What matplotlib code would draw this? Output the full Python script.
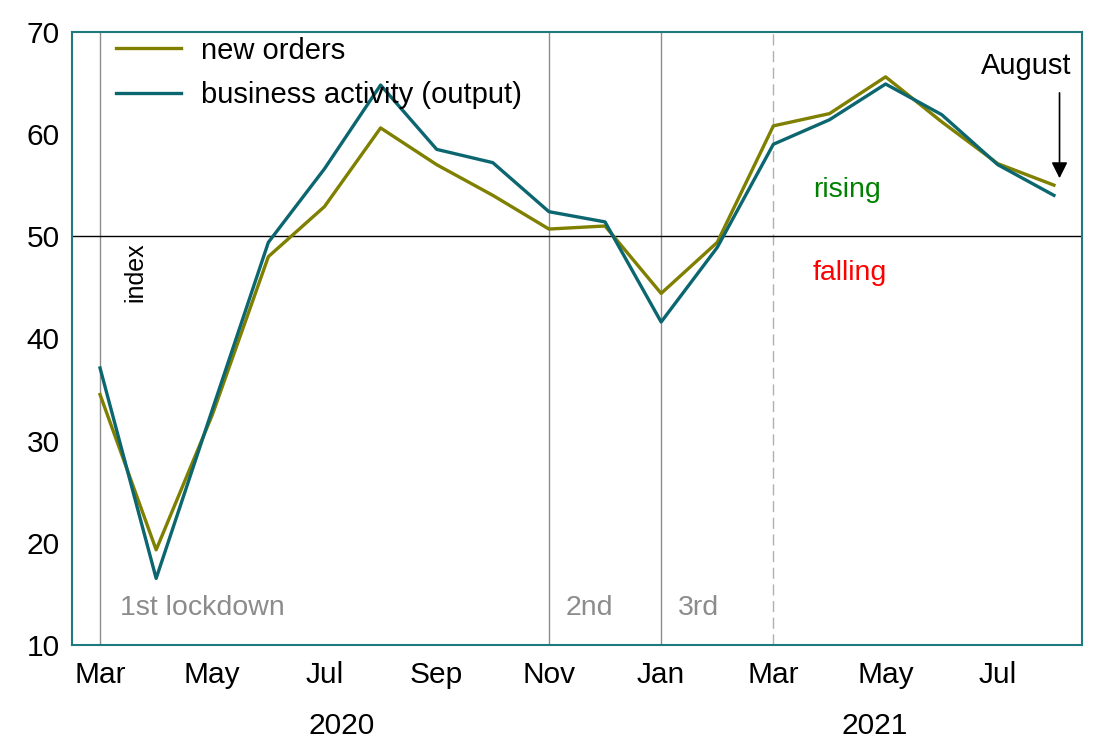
import matplotlib.pyplot as plt
from matplotlib import font_manager

months = ["Mar", "Apr", "May", "Jun", "Jul", "Aug", "Sep", "Oct", "Nov", "Dec",
          "Jan", "Feb", "Mar", "Apr", "May", "Jun", "Jul", "Aug"]
new_orders = [34.5, 19.3, 32.5, 48.0, 52.9, 60.6, 57.0, 54.0, 50.7, 51.0,
              44.4, 49.4, 60.8, 62.0, 65.6, 61.2, 57.1, 55.0]
business_activity = [37.1, 16.5, 33.0, 49.4, 56.6, 64.8, 58.5, 57.2, 52.4, 51.4,
                     41.6, 48.9, 59.0, 61.4, 64.9, 61.9, 57.0, 54.0]
years = ["2020", "2021"]

names = {f.name for f in font_manager.fontManager.ttflist}
if "Liberation Sans Narrow" in names:
    plt.rcParams["font.family"] = ["Liberation Sans Narrow", "DejaVu Sans"]
else:
    plt.rcParams["font.family"] = ["Liberation Sans", "DejaVu Sans"]

OLIVE = "#7f7f00"
TEAL = "#0b6670"
FRAME = "#1f7a80"

fig = plt.figure(figsize=(10.94, 7.42), dpi=100)
ax = fig.add_axes([0.0658, 0.131, 0.9232, 0.826])

x = list(range(len(months)))

# lockdown markers
for i in [0, 8, 10]:
    ax.axvline(i, color="#8c8c8c", lw=1.0, zorder=1)
ax.axvline(12, color="#b0b0b0", lw=1.0, ls=(0, (8, 4)), zorder=1)
ax.axhline(50, color="black", lw=1.0, zorder=1)

ax.plot(x, new_orders, color=OLIVE, lw=2.4, label="new orders", zorder=3)
ax.plot(x, business_activity, color=TEAL, lw=2.4, label="business activity (output)", zorder=3)

ax.set_xlim(-0.5, 17.5)
ax.set_ylim(10, 70)
ax.set_yticks(range(10, 71, 10))
ax.set_xticks(x[::2])
ax.set_xticklabels(months[::2])
ax.tick_params(length=0, labelsize=21.5)
ax.tick_params(axis="x", pad=12)
ax.tick_params(axis="y", pad=9)
for s in ax.spines.values():
    s.set_color(FRAME)
    s.set_linewidth(1.5)

ax.text(4.3, -0.132, years[0], transform=ax.get_xaxis_transform(), ha="center", va="center", fontsize=21.5)
ax.text(13.8, -0.132, years[1], transform=ax.get_xaxis_transform(), ha="center", va="center", fontsize=21.5)

ax.text(0.63, 46.5, "index", rotation=90, ha="center", va="center", fontsize=18)
ax.text(0.35, 13.6, "1st lockdown", color="#8c8c8c", fontsize=20.5, va="center")
ax.text(8.3, 13.6, "2nd", color="#8c8c8c", fontsize=20.5, va="center")
ax.text(10.3, 13.6, "3rd", color="#8c8c8c", fontsize=20.5, va="center")
ax.text(12.7, 54.5, "rising", color="green", fontsize=20.5, va="center")
ax.text(12.7, 46.4, "falling", color="red", fontsize=20.5, va="center")
ax.text(16.5, 66.7, "August", color="black", fontsize=21, ha="center", va="center")
ax.annotate("", xy=(17.1, 55.4), xytext=(17.1, 64.3),
            arrowprops=dict(arrowstyle="-|>", color="black", lw=1.2, mutation_scale=24))

ax.legend(loc="upper left", bbox_to_anchor=(0.018, 1.035), frameon=False, fontsize=21,
          handlelength=2.2, handletextpad=0.7, labelspacing=0.55)

fig.savefig("out.png", dpi=100)
